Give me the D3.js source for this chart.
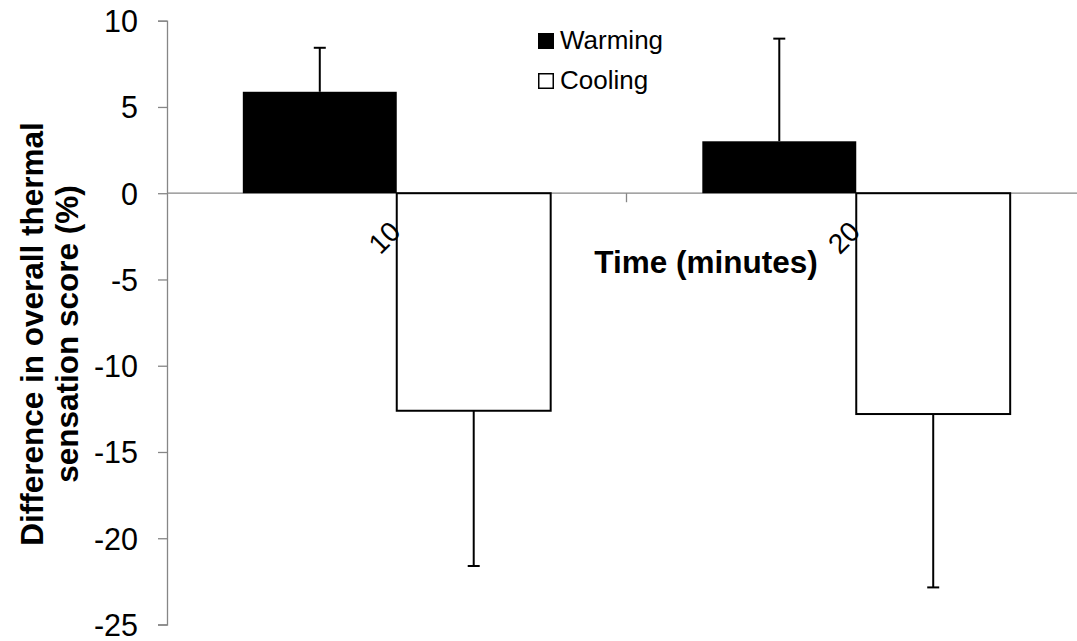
<!DOCTYPE html>
<html>
<head>
<meta charset="utf-8">
<script src="https://cdn.jsdelivr.net/npm/d3@7"></script>
<style>
  html, body { margin: 0; padding: 0; background: #fff; }
  svg { display: block; font-family: "Liberation Sans", Arial, sans-serif; }
</style>
</head>
<body>
<svg id="chart" width="1077" height="641"></svg>
<script>
const categories = ["10", "20"];
const seriesNames = ["Warming", "Cooling"];
const warmingValues = [5.88, 3.01];
const warmingErrors = [2.55, 5.95];
const coolingValues = [-12.61, -12.80];
const coolingErrors = [9.0, 10.05];
const yTicks = [10, 5, 0, -5, -10, -15, -20, -25];
const xTitle = "Time (minutes)";
const yTitleLines = ["Difference in overall thermal", "sensation score (%)"];

(function () {
const rows = [];
categories.forEach((c, i) => {
  rows.push({ cat: c, series: "Warming", value: warmingValues[i], err: warmingErrors[i] });
  rows.push({ cat: c, series: "Cooling", value: coolingValues[i], err: coolingErrors[i] });
});

const svg = d3.select("#chart");
const mLeft = 167, mRight = 1086, mTop = 20.7, mBottom = 624.5;

const y = d3.scaleLinear().domain([-25, 10]).range([mBottom, mTop]);
const x0 = d3.scaleBand().domain(categories).range([mLeft, mRight]).padding(0);
const bw = x0.bandwidth();
const x1 = d3.scaleBand().domain(seriesNames).range([bw * 0.165, bw * 0.835]).padding(0);

const axisColor = "#868686";

// Y axis
const yAxis = svg.append("g").attr("transform", `translate(${mLeft},0)`)
  .call(d3.axisLeft(y).tickValues(yTicks).tickSize(9).tickPadding(20).tickFormat(d3.format("d")));
yAxis.select(".domain").attr("stroke", axisColor).attr("stroke-width", 1.3);
yAxis.selectAll(".tick line").attr("stroke", axisColor).attr("stroke-width", 1.3);
yAxis.selectAll(".tick text").attr("font-size", 30.5).attr("fill", "#000")
  .attr("font-family", "'Liberation Sans', Arial, sans-serif")
  .attr("dy", "0.36em")
  .text(d => d < 0 ? "-" + Math.abs(d) : d);

// X axis line (zero line) and ticks at band boundaries
svg.append("line")
  .attr("x1", mLeft).attr("x2", mRight)
  .attr("y1", y(0)).attr("y2", y(0))
  .attr("stroke", axisColor).attr("stroke-width", 1.3);
const boundaries = categories.map(c => x0(c) + bw).slice(0, -1);
svg.selectAll("line.xtick").data(boundaries).enter().append("line")
  .attr("class", "xtick")
  .attr("x1", d => d).attr("x2", d => d)
  .attr("y1", y(0)).attr("y2", y(0) + 9)
  .attr("stroke", axisColor).attr("stroke-width", 1.3);

// Bars
const g = svg.append("g");
g.selectAll("rect.bar").data(rows).enter().append("rect")
  .attr("class", "bar")
  .attr("x", d => x0(d.cat) + x1(d.series))
  .attr("width", x1.bandwidth())
  .attr("y", d => y(Math.max(0, d.value)))
  .attr("height", d => Math.abs(y(d.value) - y(0)))
  .attr("fill", d => d.series === "Warming" ? "#000" : "#fff")
  .attr("stroke", "#000")
  .attr("stroke-width", d => d.series === "Warming" ? 0 : 2);

// Error bars
const eb = svg.append("g");
rows.forEach(d => {
  const cx = x0(d.cat) + x1(d.series) + x1.bandwidth() / 2;
  const end = d.value >= 0 ? d.value + d.err : d.value - d.err;
  eb.append("line").attr("x1", cx).attr("x2", cx)
    .attr("y1", y(d.value)).attr("y2", y(end))
    .attr("stroke", "#000").attr("stroke-width", 2);
  eb.append("line").attr("x1", cx - 6).attr("x2", cx + 6)
    .attr("y1", y(end)).attr("y2", y(end))
    .attr("stroke", "#000").attr("stroke-width", 2);
});

// X tick labels (rotated)
svg.selectAll("text.xlab").data(categories).enter().append("text")
  .attr("class", "xlab")
  .attr("transform", d => `translate(${x0(d) + bw / 2 - 1.5},${y(0) + 33}) rotate(-45)`)
  .attr("text-anchor", "end")
  .attr("dy", "0.36em")
  .attr("font-size", 28)
  .text(d => d);

// X title
svg.append("text")
  .attr("x", 706).attr("y", 273)
  .attr("text-anchor", "middle")
  .attr("font-size", 31.5).attr("font-weight", "bold")
  .text(xTitle);

// Y title
const yt = svg.append("text")
  .attr("transform", `translate(43,334) rotate(-90)`)
  .attr("text-anchor", "middle")
  .attr("font-size", 31.5).attr("font-weight", "bold");
yTitleLines.forEach((t, i) => {
  yt.append("tspan").attr("x", 0).attr("y", i * 35).text(t);
});

// Legend
const legend = svg.append("g");
seriesNames.forEach((s, i) => {
  const ly = 33 + i * 40;
  const filled = s === "Warming";
  legend.append("rect")
    .attr("x", filled ? 538 : 538.75).attr("y", filled ? ly : ly + 0.75)
    .attr("width", filled ? 16 : 14.5).attr("height", filled ? 16 : 14.5)
    .attr("fill", filled ? "#000" : "#fff")
    .attr("stroke", "#000").attr("stroke-width", filled ? 0 : 1.5);
  legend.append("text")
    .attr("x", 560).attr("y", ly + 16)
    .attr("font-size", 26)
    .text(s);
});
})();
</script>
</body>
</html>
